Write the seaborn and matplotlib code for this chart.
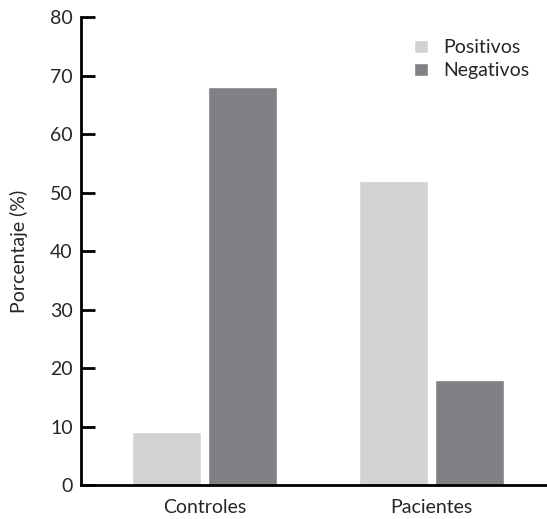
import pandas as pd
import matplotlib.pyplot as plt
import seaborn as sns

grupos = ['Controles', 'Pacientes']
positivos = [9, 52]
negativos = [68, 18]
yticks = [0, 10, 20, 30, 40, 50, 60, 70, 80]

df = pd.DataFrame({
    'Grupo': grupos * 2,
    'Resultado': ['Positivos'] * 2 + ['Negativos'] * 2,
    'Porcentaje': positivos + negativos,
})

sns.set_style('white')
plt.rcParams['font.family'] = ['Lato', 'DejaVu Sans']

fig = plt.figure(figsize=(5.47, 5.19), dpi=100)
ax = fig.add_axes([0.148, 0.0655, 0.852, 0.9015])

sns.barplot(data=df, x='Grupo', y='Porcentaje', hue='Resultado',
            palette=['#d1d2d4', '#808184'], width=0.67, gap=0.1,
            saturation=1, ax=ax)

ax.set_ylim(0, 80)
ax.set_xlim(-0.544, 1.509)
ax.set_yticks(yticks)
ax.set_xlabel('')
ax.set_ylabel('Porcentaje (%)', fontsize=14, labelpad=16)
ax.tick_params(axis='y', left=True, direction='in', length=10, width=2,
               labelsize=14, pad=6, color='black')
ax.tick_params(axis='x', bottom=False, length=0, labelsize=14, pad=10)
sns.despine(ax=ax)
for s in ['left', 'bottom']:
    ax.spines[s].set_linewidth(2)
    ax.spines[s].set_color('black')

ax.legend(title=None, frameon=False, fontsize=14, loc='upper right',
          bbox_to_anchor=(1.0, 0.99), handlelength=0.7, handleheight=0.7,
          handletextpad=0.8, labelspacing=0.3)

fig.savefig('out.png', dpi=100)
